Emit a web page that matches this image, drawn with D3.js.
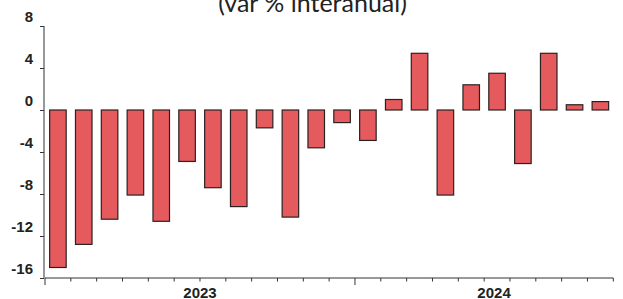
<!DOCTYPE html>
<html><head><meta charset="utf-8">
<script src="https://cdn.jsdelivr.net/npm/d3@7"></script>
<style>html,body{margin:0;padding:0;background:#fff;}svg{display:block;}</style>
</head><body>
<svg id="c" width="623" height="299"></svg>
<script>
const titleText = "(var % interanual)";
const months = ["2023-01","2023-02","2023-03","2023-04","2023-05","2023-06","2023-07","2023-08","2023-09","2023-10","2023-11","2023-12",
                "2024-01","2024-02","2024-03","2024-04","2024-05","2024-06","2024-07","2024-08","2024-09","2024-10"];
const values = [-15.0,-12.8,-10.4,-8.1,-10.6,-4.9,-7.4,-9.2,-1.7,-10.2,-3.6,-1.2,
                -2.9,1.0,5.4,-8.1,2.4,3.5,-5.1,5.4,0.5,0.8];
const yTicks = [-16,-12,-8,-4,0,4,8];
const yearLabels = ["2023","2024"];

(function(){
const svg = d3.select("#c");
const mL = 45, mR = 613.3, mT = 26, mB = 278;
const font = "'Liberation Sans', Arial, sans-serif";

const xStep = d3.scaleBand().domain(months).range([mL, mR]).padding(0);
const x = d3.scaleBand().domain(months).range([mL, mR]).paddingInner(0.36).paddingOuter(0.18);
const y = d3.scaleLinear().domain([-16, 8]).range([mB, mT]);

// title (partly cut off at top, as in the reference)
svg.append("text").attr("x", 312.5).attr("y", 12)
  .attr("text-anchor","middle").attr("font-family","Lato, 'Noto Sans', sans-serif")
  .attr("font-size", 25).attr("fill","#222").text(titleText);

// bars
svg.append("g").selectAll("rect").data(months).join("rect")
  .attr("x", d => x(d))
  .attr("width", x.bandwidth())
  .attr("y", (d,i) => y(Math.max(0, values[i])))
  .attr("height", (d,i) => Math.abs(y(values[i]) - y(0)))
  .attr("fill", "#E55A5D")
  .attr("stroke", "#2a2222")
  .attr("stroke-width", 1.2);

// y axis
const ya = svg.append("g").attr("transform", `translate(${mL-1},0)`)
  .call(d3.axisLeft(y).tickValues(yTicks).tickSize(4).tickFormat(d => String(d)));
ya.select(".domain").attr("stroke","#333").attr("d", `M0,${mT}V${mB}`);
ya.selectAll(".tick line").attr("stroke","#333");
ya.selectAll(".tick text").attr("x", -11).attr("dy", "-0.3em")
  .attr("font-family", font).attr("font-size", 15).attr("font-weight", 600).attr("fill","#222");

// x axis
const xa = svg.append("g").attr("transform", `translate(0,${mB})`);
xa.append("path").attr("d", `M${mL},0H${mR}`).attr("stroke","#333").attr("fill","none");
const bounds = months.map(m => xStep(m)).concat([mR]);
xa.selectAll("line").data(bounds).join("line")
  .attr("x1", d => d).attr("x2", d => d).attr("y1", 0)
  .attr("y2", (d,i) => (i < months.length && months[i].endsWith("-01")) ? 7 : 3.5)
  .attr("stroke","#333");

// year labels
const yearPos = [
  xStep("2023-07"),
  xStep("2024-06") + xStep.bandwidth()/2 - 3
];
svg.append("g").selectAll("text").data(yearLabels).join("text")
  .attr("x", (d,i) => yearPos[i]).attr("y", 297.5)
  .attr("text-anchor","middle")
  .attr("font-family", font).attr("font-size", 15).attr("font-weight", 600)
  .attr("fill","#222").text(d => d);
})();
</script>
</body></html>
